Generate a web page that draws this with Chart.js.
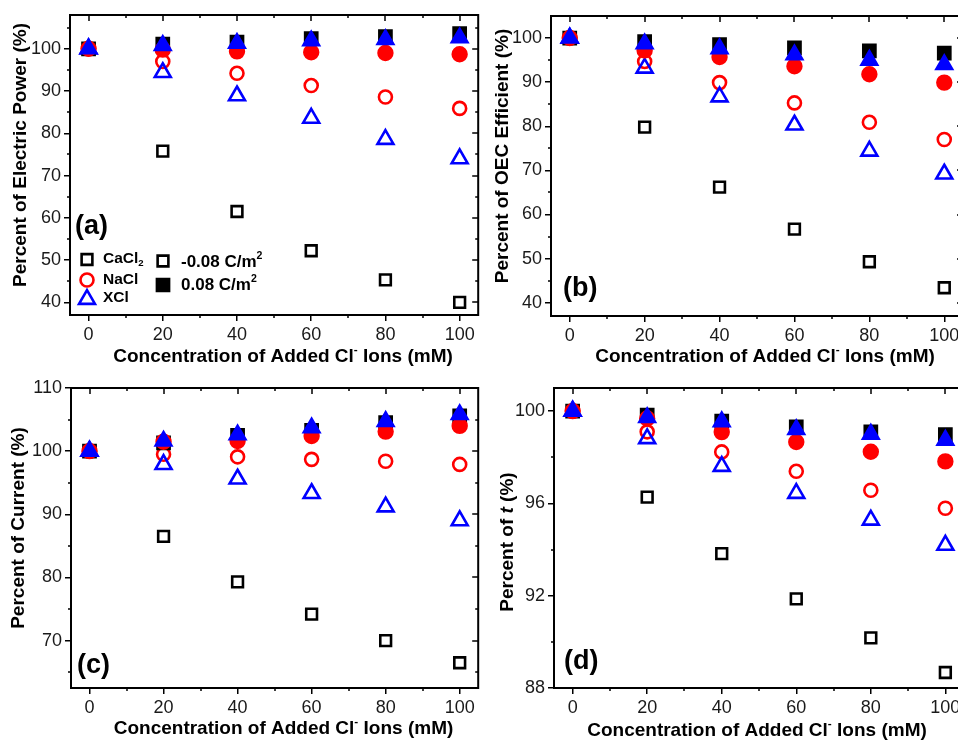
<!DOCTYPE html>
<html><head><meta charset="utf-8">
<script src="https://cdn.jsdelivr.net/npm/chart.js@4.4.0/dist/chart.umd.min.js"></script>
<style>
html,body{margin:0;padding:0;background:#fff;width:958px;height:740px;overflow:hidden;position:relative}
canvas{position:absolute}
</style></head><body>
<canvas id="ca" width="490" height="372" style="left:0px;top:0px"></canvas>
<canvas id="cb" width="500" height="372" style="left:485px;top:0px"></canvas>
<canvas id="cc" width="490" height="370" style="left:0px;top:370px"></canvas>
<canvas id="cd" width="500" height="370" style="left:485px;top:370px"></canvas>
<script>
// ---------- data ----------
const conc = [0, 20, 40, 60, 80, 100];
const xTicks = [0, 20, 40, 60, 80, 100];
const xMinor = [10, 30, 50, 70, 90];

// (a) Percent of Electric Power
const a_CaCl2_neg = [100, 75.8, 61.5, 52.2, 45.3, 40.0];
const a_CaCl2_pos = [100, 101.1, 101.6, 102.4, 102.9, 103.6];
const a_NaCl_neg  = [100, 97.0, 94.2, 91.3, 88.6, 85.9];
const a_NaCl_pos  = [100, 99.8, 99.4, 99.2, 99.0, 98.7];
const a_XCl_neg   = [100, 94.4, 88.9, 83.6, 78.6, 74.0];
const a_XCl_pos   = [100, 100.8, 101.3, 101.9, 102.2, 102.6];
const a_yTicks = [40, 50, 60, 70, 80, 90, 100];
const a_yMinor = [45, 55, 65, 75, 85, 95, 105];

// (b) Percent of OEC Efficient
const b_CaCl2_neg = [100, 79.8, 66.2, 56.7, 49.3, 43.4];
const b_CaCl2_pos = [100, 99.2, 98.5, 97.8, 97.1, 96.6];
const b_NaCl_neg  = [100, 94.7, 89.9, 85.3, 80.9, 77.0];
const b_NaCl_pos  = [100, 97.2, 95.7, 93.6, 91.8, 89.9];
const b_XCl_neg   = [100, 93.2, 86.7, 80.3, 74.4, 69.2];
const b_XCl_pos   = [100, 98.7, 97.6, 96.2, 95.0, 94.0];
const b_yTicks = [40, 50, 60, 70, 80, 90, 100];
const b_yMinor = [45, 55, 65, 75, 85, 95];

// (c) Percent of Current
const c_CaCl2_neg = [100, 86.5, 79.3, 74.2, 70.0, 66.5];
const c_CaCl2_pos = [100, 101.3, 102.5, 103.3, 104.5, 105.6];
const c_NaCl_neg  = [100, 99.5, 99.1, 98.7, 98.4, 97.9];
const c_NaCl_pos  = [100, 101.5, 101.6, 102.4, 103.1, 104.0];
const c_XCl_neg   = [100, 97.9, 95.6, 93.3, 91.2, 89.0];
const c_XCl_pos   = [100, 101.6, 102.6, 103.7, 104.7, 105.8];
const c_yTicks = [70, 80, 90, 100, 110];
const c_yMinor = [65, 75, 85, 95, 105];

// (d) Percent of t
const d_CaCl2_neg = [100, 96.27, 93.82, 91.86, 90.17, 88.67];
const d_CaCl2_pos = [100, 99.83, 99.56, 99.32, 99.10, 98.98];
const d_NaCl_neg  = [100, 99.10, 98.23, 97.39, 96.57, 95.79];
const d_NaCl_pos  = [100, 99.68, 99.09, 98.66, 98.24, 97.82];
const d_XCl_neg   = [100, 98.81, 97.61, 96.44, 95.28, 94.19];
const d_XCl_pos   = [100, 99.72, 99.54, 99.20, 99.00, 98.74];
const d_yTicks = [88, 92, 96, 100];
const d_yMinor = [90, 94, 98];

// ---------- styles ----------
const FONT = "'Liberation Sans', Arial, Helvetica, sans-serif";
const BLACK = '#000000', RED = '#ff0000', BLUE = '#0000ff';
const SERIES = [ // bottom -> top drawing order
  {key:'CaCl2_neg', shape:'rect',     color:BLACK, filled:false, r:7.6, bw:2.6},
  {key:'NaCl_neg',  shape:'circle',   color:RED,   filled:false, r:6.5, bw:2.6},
  {key:'XCl_neg',   shape:'triangle', color:BLUE,  filled:false, r:9.2, bw:2.6},
  {key:'CaCl2_pos', shape:'rect',     color:BLACK, filled:true,  r:9,   bw:2},
  {key:'NaCl_pos',  shape:'circle',   color:RED,   filled:true,  r:7.2, bw:2},
  {key:'XCl_pos',   shape:'triangle', color:BLUE,  filled:true,  r:9.6, bw:2}
];

const X_TITLE = [{t:'Concentration of Added Cl'}, {t:'-', sup:true}, {t:' Ions (mM)'}];

function drawRich(ctx, segs, cx, cy, rot, size) {
  const parts = segs.map(s => {
    const sz = (s.sup || s.sub) ? size * 0.62 : size;
    const f = (s.italic ? 'italic ' : '') + 'bold ' + sz + 'px ' + FONT;
    ctx.font = f;
    return {t:s.t, f:f, w:ctx.measureText(s.t).width, dy: s.sup ? -size*0.38 : (s.sub ? size*0.22 : 0)};
  });
  const total = parts.reduce((a,p)=>a+p.w, 0);
  ctx.save();
  ctx.translate(cx, cy);
  if (rot) ctx.rotate(rot);
  ctx.fillStyle = '#000';
  ctx.textBaseline = 'middle';
  ctx.textAlign = 'left';
  let x = -total/2;
  parts.forEach(p => { ctx.font = p.f; ctx.fillText(p.t, x, p.dy); x += p.w; });
  ctx.restore();
}

function shape(ctx, type, x, y, r, color, filled, bw) {
  ctx.save();
  ctx.lineWidth = bw; ctx.strokeStyle = color; ctx.fillStyle = color;
  ctx.beginPath();
  if (type === 'rect') { const h = r*Math.SQRT1_2; ctx.rect(x-h, y-h, 2*h, 2*h); }
  else if (type === 'circle') { ctx.arc(x, y, r, 0, Math.PI*2); }
  else { const yc = y + r*0.25; ctx.moveTo(x, yc - r); ctx.lineTo(x + r*0.866, yc + r/2); ctx.lineTo(x - r*0.866, yc + r/2); ctx.closePath(); }
  if (filled) ctx.fill();
  ctx.stroke();
  ctx.restore();
}

function rich(ctx, segs, x, y, size) { // left aligned, baseline middle
  segs.forEach(s => {
    const sz = (s.sup || s.sub) ? size*0.62 : size;
    ctx.font = 'bold ' + sz + 'px ' + FONT;
    ctx.fillStyle = '#000'; ctx.textBaseline = 'middle'; ctx.textAlign = 'left';
    const dy = s.sup ? -size*0.35 : (s.sub ? size*0.25 : 0);
    ctx.fillText(s.t, x, y + dy);
    x += ctx.measureText(s.t).width;
  });
}

function makePanel(def) {
  const datasets = SERIES.map((s, i) => ({
    label: s.key,
    data: conc.map((c, j) => ({x: c, y: def.values[s.key][j]})),
    pointStyle: s.shape, pointRadius: s.r, pointHoverRadius: s.r,
    pointBorderWidth: s.bw, borderColor: s.color,
    backgroundColor: s.filled ? s.color : 'rgba(0,0,0,0)',
    showLine: false, order: SERIES.length - i
  }));
  const tickFont = {family: FONT, size: 18};
  const framePlugin = {
    id: 'frame' + def.id,
    afterDraw(chart) {
      const ctx = chart.ctx;
      const {left, top, right, bottom} = chart.chartArea;
      const xs = chart.scales.x, ys = chart.scales.y;
      ctx.save();
      ctx.strokeStyle = '#000';
      ctx.lineWidth = 2;
      ctx.beginPath();
      ctx.moveTo(left - 1, top); ctx.lineTo(right, top); ctx.lineTo(right, bottom + 1);
      ctx.stroke();
      ctx.lineWidth = 1.5;
      ctx.beginPath();
      xTicks.forEach(v => { const p = Math.round(xs.getPixelForValue(v)); ctx.moveTo(p, top); ctx.lineTo(p, top + 6); });
      xMinor.forEach(v => { const p = Math.round(xs.getPixelForValue(v));
        ctx.moveTo(p, top); ctx.lineTo(p, top + 3); ctx.moveTo(p, bottom); ctx.lineTo(p, bottom + 3); });
      def.yTicks.forEach(v => { const p = Math.round(ys.getPixelForValue(v)); ctx.moveTo(right, p); ctx.lineTo(right - 6, p); });
      def.yMinor.forEach(v => { const p = Math.round(ys.getPixelForValue(v));
        ctx.moveTo(right, p); ctx.lineTo(right - 3, p); ctx.moveTo(left, p); ctx.lineTo(left - 3, p); });
      ctx.stroke();
      // panel letter
      ctx.font = 'bold 27px ' + FONT;
      ctx.fillStyle = '#000'; ctx.textBaseline = 'alphabetic'; ctx.textAlign = 'left';
      ctx.fillText(def.letter, def.letterPos[0], def.letterPos[1]);
      // axis titles
      drawRich(ctx, X_TITLE, def.xTitlePos[0], def.xTitlePos[1], 0, 19);
      drawRich(ctx, def.yTitle, def.yTitlePos[0], def.yTitlePos[1], -Math.PI/2, 19);
      if (def.legend) def.legend(ctx);
      ctx.restore();
    }
  };
  return new Chart(document.getElementById(def.id), {
    type: 'scatter',
    data: {datasets},
    options: {
      responsive: false, animation: false, events: [],
      layout: {padding: def.padding},
      plugins: {legend: {display: false}, tooltip: {enabled: false}},
      scales: {
        x: {
          type: 'linear', min: -5, max: 105,
          afterBuildTicks: s => { s.ticks = xTicks.map(v => ({value: v})); },
          afterFit: s => { s.height = def.xH; },
          ticks: {font: tickFont, color: '#1a1a1a', padding: 3, maxRotation: 0, autoSkip: false},
          grid: {display: true, drawOnChartArea: false, drawTicks: true, tickLength: 6, color: '#000', lineWidth: 1.5},
          border: {display: true, color: '#000', width: 2}
        },
        y: {
          type: 'linear', min: def.yMin, max: def.yMax,
          afterBuildTicks: s => { s.ticks = def.yTicks.map(v => ({value: v})); },
          afterFit: s => { s.width = def.yW; },
          ticks: {font: tickFont, color: '#1a1a1a', padding: 3, autoSkip: false},
          grid: {display: true, drawOnChartArea: false, drawTicks: true, tickLength: 6, color: '#000', lineWidth: 1.5},
          border: {display: true, color: '#000', width: 2}
        }
      }
    },
    plugins: [framePlugin]
  });
}

function legendA(ctx) {
  shape(ctx, 'rect', 87, 259.5, 7.6, BLACK, false, 2.6);
  shape(ctx, 'circle', 87, 280, 6.5, RED, false, 2.6);
  shape(ctx, 'triangle', 87, 297, 9.2, BLUE, false, 2.6);
  rich(ctx, [{t:'CaCl'}, {t:'2', sub:true}], 103, 259, 15.5);
  rich(ctx, [{t:'NaCl'}], 103, 280, 15.5);
  rich(ctx, [{t:'XCl'}], 103, 298, 15.5);
  shape(ctx, 'rect', 163, 261, 7.6, BLACK, false, 2.6);
  shape(ctx, 'rect', 163, 285, 9, BLACK, true, 2);
  rich(ctx, [{t:'-0.08 C/m'}, {t:'2', sup:true}], 181, 262, 17);
  rich(ctx, [{t:'0.08 C/m'}, {t:'2', sup:true}], 181, 285, 17);
}

makePanel({
  id: 'ca', padding: {left: 0, top: 15, right: 10, bottom: 0}, yW: 70, xH: 57,
  yMin: 37, yMax: 108, yTicks: a_yTicks, yMinor: a_yMinor,
  values: {CaCl2_neg: a_CaCl2_neg, CaCl2_pos: a_CaCl2_pos, NaCl_neg: a_NaCl_neg, NaCl_pos: a_NaCl_pos, XCl_neg: a_XCl_neg, XCl_pos: a_XCl_pos},
  letter: '(a)', letterPos: [75, 234],
  xTitlePos: [283, 357], yTitlePos: [21, 155],
  yTitle: [{t:'Percent of Electric Power (%)'}],
  legend: legendA
});
makePanel({
  id: 'cb', padding: {left: 0, top: 16, right: 22, bottom: 0}, yW: 66, xH: 56,
  yMin: 37, yMax: 105, yTicks: b_yTicks, yMinor: b_yMinor,
  values: {CaCl2_neg: b_CaCl2_neg, CaCl2_pos: b_CaCl2_pos, NaCl_neg: b_NaCl_neg, NaCl_pos: b_NaCl_pos, XCl_neg: b_XCl_neg, XCl_pos: b_XCl_pos},
  letter: '(b)', letterPos: [78, 296],
  xTitlePos: [280, 357], yTitlePos: [18, 156],
  yTitle: [{t:'Percent of OEC Efficient (%)'}]
});
makePanel({
  id: 'cc', padding: {left: 0, top: 18, right: 9, bottom: 0}, yW: 71, xH: 52,
  yMin: 62.5, yMax: 110, yTicks: c_yTicks, yMinor: c_yMinor,
  values: {CaCl2_neg: c_CaCl2_neg, CaCl2_pos: c_CaCl2_pos, NaCl_neg: c_NaCl_neg, NaCl_pos: c_NaCl_pos, XCl_neg: c_XCl_neg, XCl_pos: c_XCl_pos},
  letter: '(c)', letterPos: [77, 302.6],
  xTitlePos: [283.5, 359], yTitlePos: [19, 158],
  yTitle: [{t:'Percent of Current (%)'}]
});
makePanel({
  id: 'cd', padding: {left: 0, top: 18, right: 21, bottom: 0}, yW: 69, xH: 52,
  yMin: 88, yMax: 101, yTicks: d_yTicks, yMinor: d_yMinor,
  values: {CaCl2_neg: d_CaCl2_neg, CaCl2_pos: d_CaCl2_pos, NaCl_neg: d_NaCl_neg, NaCl_pos: d_NaCl_pos, XCl_neg: d_XCl_neg, XCl_pos: d_XCl_pos},
  letter: '(d)', letterPos: [79, 299],
  xTitlePos: [272, 361], yTitlePos: [23, 172],
  yTitle: [{t:'Percent of '}, {t:'t', italic:true}, {t:' (%)'}]
});
</script>
</body></html>
